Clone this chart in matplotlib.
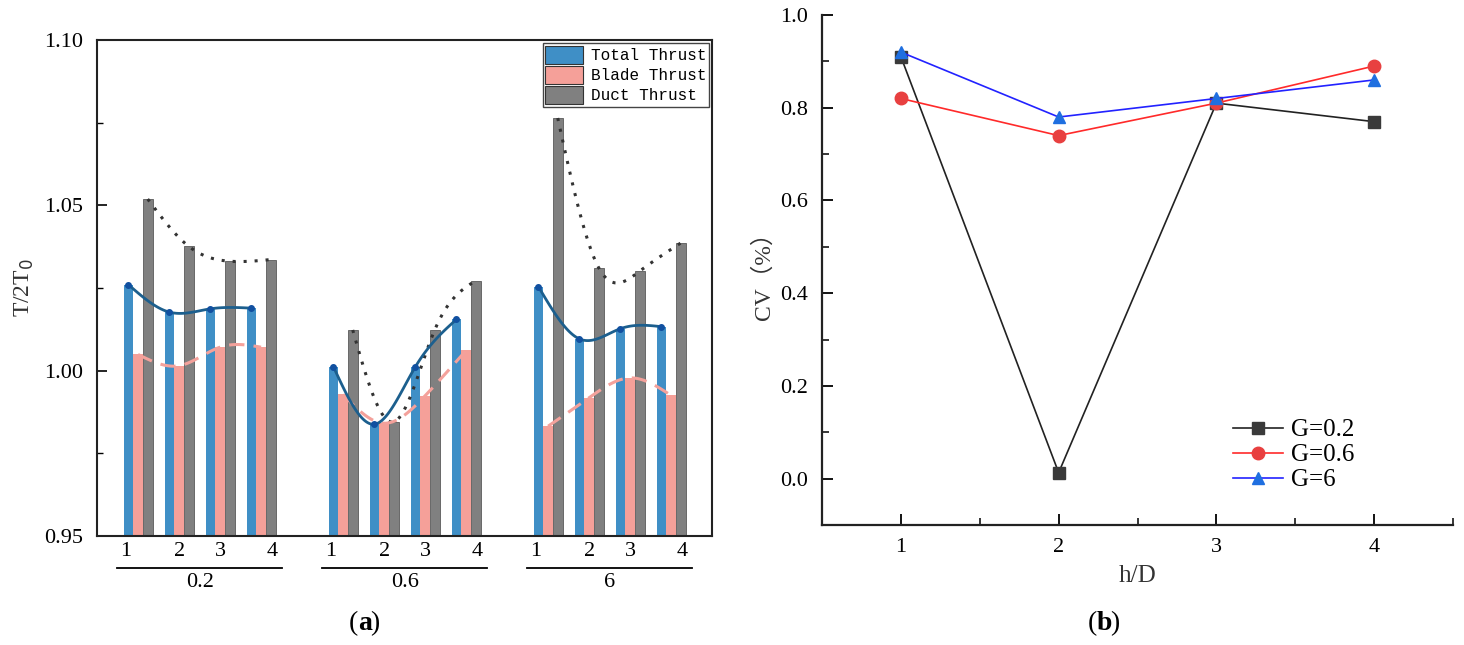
import numpy as np
import matplotlib.pyplot as plt

plt.rcParams['font.family'] = ['Liberation Serif', 'Noto Sans CJK SC']

# (a) thrust ratio T/2T0, one row per gap ratio G, one value per h/D
groups = ['0.2', '0.6', '6']
hd_labels = ['1', '2', '3', '4']
total = [[1.0260, 1.0177, 1.0187, 1.0189],
         [1.0012, 0.9838, 1.0012, 1.0155],
         [1.0254, 1.0096, 1.0127, 1.0133]]
blade = [[1.0049, 1.0015, 1.0071, 1.0071],
         [0.9928, 0.9841, 0.9924, 1.0061],
         [0.9832, 0.9918, 0.9978, 0.9925]]
duct = [[1.0519, 1.0376, 1.0331, 1.0336],
        [1.0123, 0.9845, 1.0123, 1.0272],
        [1.0764, 1.0311, 1.0301, 1.0386]]

# (b) CV vs h/D
hd = [1, 2, 3, 4]
cv_g02 = [0.91, 0.013, 0.81, 0.77]
cv_g06 = [0.82, 0.74, 0.81, 0.89]
cv_g6 = [0.92, 0.78, 0.82, 0.86]


def spline(x, y, n=80):
    # natural cubic spline, only used to draw the smooth trend lines
    x = np.asarray(x, float)
    y = np.asarray(y, float)
    h = np.diff(x)
    m = len(x)
    A = np.zeros((m, m))
    b = np.zeros(m)
    A[0, 0] = A[-1, -1] = 1
    for i in range(1, m - 1):
        A[i, i - 1] = h[i - 1]
        A[i, i] = 2 * (h[i - 1] + h[i])
        A[i, i + 1] = h[i]
        b[i] = 6 * ((y[i + 1] - y[i]) / h[i] - (y[i] - y[i - 1]) / h[i - 1])
    M = np.linalg.solve(A, b)
    xs = np.linspace(x[0], x[-1], n)
    k = np.clip(np.searchsorted(x, xs) - 1, 0, m - 2)
    t0 = x[k + 1] - xs
    t1 = xs - x[k]
    hk = h[k]
    ys = (M[k] * t0 ** 3 + M[k + 1] * t1 ** 3) / (6 * hk) \
        + (y[k] / hk - M[k] * hk / 6) * t0 + (y[k + 1] / hk - M[k + 1] * hk / 6) * t1
    return xs, ys


fig = plt.figure(figsize=(14.64, 6.45), dpi=100)

# ---------------- (a) ----------------
ax = fig.add_axes([0.0663, 0.169, 0.4201, 0.769])
bw = 0.235
c_blue, c_pink, c_gray = '#3f8fc6', '#f5a099', '#808080'
tick_pos, tick_lab = [], []
label_shift = [-0.3, 0.0, 0.0, 0.27]
for g in range(len(groups)):
    x = g * 5 + np.arange(len(hd_labels))
    ax.bar(x - bw, total[g], bw, color=c_blue, zorder=2,
           label='Total Thrust' if g == 0 else None)
    ax.bar(x, blade[g], bw, color=c_pink, zorder=2,
           label='Blade Thrust' if g == 0 else None)
    ax.bar(x + bw, duct[g], bw, color=c_gray, edgecolor='#5a5a5a', lw=0.6, zorder=2,
           label='Duct Thrust' if g == 0 else None)

    xs, ys = spline(x + bw, duct[g])
    ax.plot(xs, ys, color='#333333', lw=2.2, ls=(0, (1, 2.6)), zorder=3)
    xs, ys = spline(x, blade[g])
    ax.plot(xs, ys, color='#f4a19b', lw=2.2, ls=(0, (5, 3)), zorder=3)
    xs, ys = spline(x - bw, total[g])
    ax.plot(xs, ys, color='#1c5f8e', lw=2, zorder=4)
    ax.plot(x - bw, total[g], 'o', color='#1150a0', ms=4, zorder=5)

    for i, lab in enumerate(hd_labels):
        tick_pos.append(x[i] + label_shift[i])
        tick_lab.append(lab)
    ax.plot([g * 5 - 0.52, g * 5 + 3.5], [-0.064, -0.064], color='k', lw=1.3,
            transform=ax.get_xaxis_transform(), clip_on=False)
    ax.text(g * 5 + 1.5, -0.094, groups[g], transform=ax.get_xaxis_transform(),
            ha='center', va='center', fontsize=16)

ax.set_xlim(-1, 14)
ax.set_ylim(0.95, 1.10)
ax.set_xticks(tick_pos)
ax.set_xticklabels(tick_lab, fontsize=16)
ax.tick_params(axis='x', length=0, pad=4)
ax.set_yticks([0.95, 1.00, 1.05, 1.10])
ax.set_yticklabels(['0.95', '1.00', '1.05', '1.10'], fontsize=16)
ax.set_yticks([0.975, 1.025, 1.075], minor=True)
ax.tick_params(axis='y', which='major', direction='in', length=7, width=1.2, pad=10)
ax.tick_params(axis='y', which='minor', direction='in', length=4, width=1.0)
for s in ax.spines.values():
    s.set_linewidth(1.5)
    s.set_color('#222222')
ax.set_ylabel('T/2T$_0$', fontsize=17, color='#333333', labelpad=6)
leg = ax.legend(loc='upper right', prop={'family': 'Liberation Mono', 'size': 11.5},
                fancybox=False, framealpha=1, edgecolor='#444444',
                handlelength=2.35, handleheight=1.4, labelspacing=0.1,
                handletextpad=0.5, borderpad=0.15, borderaxespad=0.2)
for p in leg.get_patches():
    p.set_edgecolor('#333333')
    p.set_linewidth(0.8)

# ---------------- (b) ----------------
bx = fig.add_axes([0.5615, 0.186, 0.431, 0.7907])
bx.plot(hd, cv_g02, color='#222222', lw=1.2, marker='s', ms=8,
        mfc='#3a3a3a', mec='#3a3a3a', label='G=0.2')
bx.plot(hd, cv_g06, color='#ff2a2a', lw=1.2, marker='o', ms=9,
        mfc='#e84040', mec='#e84040', label='G=0.6')
bx.plot(hd, cv_g6, color='#2222ff', lw=1.2, marker='^', ms=9,
        mfc='#1f6fe0', mec='#1f6fe0', label='G=6')
bx.set_xlim(0.5, 4.5)
bx.set_ylim(-0.1, 1.0)
bx.set_xticks(hd)
bx.set_xticklabels([str(v) for v in hd], fontsize=16)
bx.set_xticks([1.5, 2.5, 3.5, 4.5], minor=True)
bx.set_yticks([0.0, 0.2, 0.4, 0.6, 0.8, 1.0])
bx.set_yticklabels(['0.0', '0.2', '0.4', '0.6', '0.8', '1.0'], fontsize=16)
bx.set_yticks([0.1, 0.3, 0.5, 0.7, 0.9], minor=True)
bx.tick_params(which='major', direction='in', length=8, width=1.3, pad=9)
bx.tick_params(which='minor', direction='in', length=5, width=1.1)
bx.tick_params(axis='y', pad=10)
for s in ['top', 'right']:
    bx.spines[s].set_visible(False)
for s in ['left', 'bottom']:
    bx.spines[s].set_linewidth(1.6)
    bx.spines[s].set_color('#222222')
bx.set_xlabel('h/D', fontsize=18, color='#333333', labelpad=6)
bx.set_ylabel('CV（%）', fontsize=17, color='#333333', labelpad=4)
bx.legend(loc='center left', bbox_to_anchor=(0.652, 0.137), frameon=False,
          fontsize=18, handlelength=2.0, handletextpad=0.3, labelspacing=0.1,
          borderpad=0, borderaxespad=0)

fig.text(0.2445, 0.033, '(', fontsize=20, ha='right', va='center')
fig.text(0.2445, 0.033, 'a', fontsize=20, weight='bold', ha='left', va='center')
fig.text(0.2445 + 0.0085, 0.033, ')', fontsize=20, ha='left', va='center')
fig.text(0.7490, 0.033, '(', fontsize=20, ha='right', va='center')
fig.text(0.7490, 0.033, 'b', fontsize=20, weight='bold', ha='left', va='center')
fig.text(0.7490 + 0.0093, 0.033, ')', fontsize=20, ha='left', va='center')

fig.savefig('out.png', dpi=100)
